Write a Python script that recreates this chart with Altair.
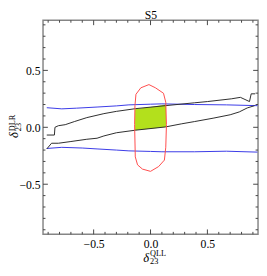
import altair as alt
import pandas as pd

# ---- data ----
blue_up_x = [-0.912, -0.78, -0.65, -0.47, -0.30, -0.19, 0.0, 0.10, 0.385, 0.667, 0.94]
blue_up_y = [0.172, 0.162, 0.168, 0.178, 0.188, 0.197, 0.203, 0.206, 0.200, 0.197, 0.19]

blue_lo_x = [-0.912, -0.78, -0.60, -0.47, -0.30, -0.19, 0.0, 0.10, 0.385, 0.667, 0.94]
blue_lo_y = [-0.186, -0.176, -0.182, -0.19, -0.20, -0.207, -0.212, -0.215, -0.215, -0.21, -0.218]

blk_up_x = [-0.912, -0.845, -0.84, -0.81, -0.75, -0.67, -0.56, -0.41, -0.30, -0.13, 0.13, 0.385, 0.50, 0.71, 0.79, 0.87, 0.885, 0.92]
blk_up_y = [-0.068, -0.068, 0.0, 0.014, 0.023, 0.05, 0.085, 0.12, 0.14, 0.164, 0.19, 0.215, 0.226, 0.25, 0.263, 0.226, 0.294, 0.294]

blk_lo_x = [-0.912, -0.87, -0.81, -0.70, -0.56, -0.47, -0.41, -0.30, -0.13, 0.13, 0.27, 0.385, 0.55, 0.70, 0.78, 0.85, 0.915]
blk_lo_y = [-0.19, -0.14, -0.14, -0.125, -0.105, -0.096, -0.076, -0.048, -0.025, 0.003, 0.03, 0.05, 0.08, 0.11, 0.135, 0.17, 0.19]

red_x = [-0.014, 0.043, 0.114, 0.134, 0.14, 0.134, 0.122, 0.071, 0.0, -0.071, -0.114, -0.134, -0.14, -0.137, -0.128, -0.085, -0.014]
red_y = [0.375, 0.347, 0.299, 0.22, 0.023, -0.175, -0.288, -0.345, -0.387, -0.367, -0.33, -0.26, 0.023, 0.19, 0.29, 0.347, 0.375]

green_x = [-0.136, 0.0, 0.136]
green_top = [0.158, 0.178, 0.2]
green_bot = [-0.027, -0.012, 0.003]

major_ticks = [-0.5, 0.0, 0.5]
minor_ticks = [-0.9, -0.8, -0.7, -0.6, -0.4, -0.3, -0.2, -0.1, 0.1, 0.2, 0.3, 0.4, 0.6, 0.7, 0.8, 0.9]

W, H = 221, 220
SERIF = "Liberation Serif"

xs = alt.Scale(domain=[-0.945, 0.945], nice=False, zero=False)
ys = alt.Scale(domain=[-0.94, 0.94], nice=False, zero=False)
AX = alt.Axis(values=major_ticks, format=".1f", title=None, ticks=False,
              domain=False, grid=False, labelPadding=5)
AY = alt.Axis(values=major_ticks, format=".1f", title=None, ticks=False,
              domain=False, grid=False, labelPadding=3)


def X(f):
    return alt.X(f, scale=xs, axis=AX, title=None)


def Y(f):
    return alt.Y(f, scale=ys, axis=AY, title=None)


def curve(xv, yv, color, width=1.0):
    df = pd.DataFrame({"x": xv, "y": yv, "i": list(range(len(xv)))})
    return alt.Chart(df).mark_line(color=color, strokeWidth=width).encode(
        x=X("x:Q"), y=Y("y:Q"), order="i:Q",
    )


green = alt.Chart(pd.DataFrame({"x": green_x, "t": green_top, "b": green_bot})).mark_area(
    color="#b3e01c", opacity=1
).encode(x=X("x:Q"), y=Y("t:Q"), y2="b:Q")


def xticks(vals, length):
    df = pd.DataFrame({"v": vals})
    b = alt.Chart(df).mark_rule(color="#444", strokeWidth=1)
    return [
        b.encode(x=X("v:Q"), y=alt.value(H), y2=alt.value(H - length)),
        b.encode(x=X("v:Q"), y=alt.value(0), y2=alt.value(length)),
    ]


def yticks(vals, length):
    df = pd.DataFrame({"v": vals})
    b = alt.Chart(df).mark_rule(color="#444", strokeWidth=1)
    return [
        b.encode(y=Y("v:Q"), x=alt.value(0), x2=alt.value(length)),
        b.encode(y=Y("v:Q"), x=alt.value(W), x2=alt.value(W - length)),
    ]


def txt(s, x, y, size, angle=0, align="left", baseline="alphabetic", italic=False):
    return alt.Chart(pd.DataFrame({"t": [s]})).mark_text(
        font=SERIF, fontSize=size, angle=angle, align=align, baseline=baseline,
        fontStyle="italic" if italic else "normal", color="black"
    ).encode(x=alt.value(x), y=alt.value(y), text="t:N")


layers = [green,
          curve(blue_up_x, blue_up_y, "#3838e6"),
          curve(blue_lo_x, blue_lo_y, "#3838e6"),
          curve(blk_up_x, blk_up_y, "#2a2a2a"),
          curve(blk_lo_x, blk_lo_y, "#2a2a2a"),
          curve(red_x, red_y, "#ff4a4a")]
layers += xticks(major_ticks, 5) + xticks(minor_ticks, 2.5)
layers += yticks(major_ticks, 5) + yticks(minor_ticks, 2.5)
layers += [
    txt("S5", W / 2 + 0.5, -1.5, 12, align="center"),
    txt("δ", 103, 248, 13, italic=True),
    txt("QLL", 110, 242, 8.5),
    txt("23", 110, 250.5, 8.5),
    txt("δ", -26, 121, 13, angle=270, italic=True),
    txt("DLR", -28.5, 114, 8.5, angle=270),
    txt("23", -23, 114, 8.5, angle=270),
]

chart = alt.layer(*layers).properties(
    width=W, height=H,
    autosize=alt.AutoSizeParams(type="none"),
    padding={"left": 36, "top": 9, "right": 1, "bottom": 31},
).configure_view(stroke="#858585", strokeWidth=1.5).configure_axis(
    labelFont=SERIF, labelFontSize=12, labelColor="black"
)

chart.save("out.html", embed_options={"renderer": "svg", "actions": False})
